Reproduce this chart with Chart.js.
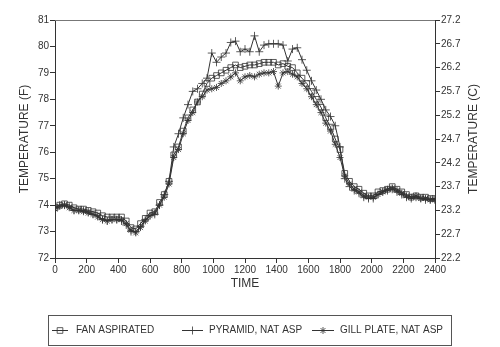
<!DOCTYPE html>
<html><head><meta charset="utf-8">
<script src="https://cdn.jsdelivr.net/npm/chart.js@4.4.1/dist/chart.umd.min.js"></script>
<style>html,body{margin:0;padding:0;background:#fff}#wrap{width:500px;height:347px;position:relative}</style>
</head><body><div id="wrap"><canvas id="c" width="500" height="347"></canvas></div>
<script>
const times=[0,30,60,90,120,150,180,210,240,270,300,330,360,390,420,450,480,510,540,570,600,630,660,690,720,750,780,810,840,870,900,930,960,990,1020,1050,1080,1110,1140,1170,1200,1230,1260,1290,1320,1350,1380,1410,1440,1470,1500,1530,1560,1590,1620,1650,1680,1710,1740,1770,1800,1830,1860,1890,1920,1950,1980,2010,2040,2070,2100,2130,2160,2190,2220,2250,2280,2310,2340,2370,2400];
const fanAspirated=[73.9,74.0,74.05,74.0,73.9,73.85,73.85,73.8,73.75,73.7,73.6,73.55,73.55,73.55,73.55,73.4,73.15,73.1,73.3,73.5,73.7,73.75,74.1,74.4,74.9,75.9,76.2,76.8,77.3,77.6,77.9,78.2,78.6,78.8,78.9,79.0,79.1,79.2,79.3,79.2,79.25,79.3,79.3,79.35,79.4,79.4,79.4,79.3,79.35,79.25,79.2,79.0,78.8,78.6,78.3,78.0,77.7,77.3,76.95,76.5,76.1,75.2,74.9,74.7,74.6,74.45,74.35,74.35,74.5,74.55,74.6,74.7,74.6,74.5,74.4,74.3,74.35,74.3,74.3,74.25,74.25];
const pyramidNatAsp=[73.9,74.0,74.0,73.95,73.8,73.8,73.8,73.75,73.65,73.6,73.45,73.4,73.45,73.45,73.4,73.25,73.0,73.0,73.2,73.45,73.6,73.65,74.0,74.4,74.9,76.2,76.7,77.3,77.8,78.3,78.4,78.6,78.8,79.75,79.4,79.6,79.75,80.15,80.2,79.8,79.9,79.8,80.4,79.8,80.05,80.1,80.1,80.1,80.05,79.45,79.9,79.95,79.5,79.1,78.7,78.35,78.0,77.6,77.35,77.0,76.2,75.0,74.7,74.55,74.45,74.3,74.25,74.25,74.4,74.5,74.55,74.6,74.5,74.4,74.3,74.25,74.3,74.25,74.2,74.2,74.2];
const gillPlateNatAsp=[73.85,73.95,74.0,73.9,73.8,73.8,73.75,73.7,73.65,73.55,73.45,73.4,73.45,73.45,73.45,73.3,73.05,72.95,73.15,73.4,73.6,73.7,74.0,74.3,74.8,75.8,76.1,76.7,77.2,77.5,77.9,78.1,78.35,78.4,78.45,78.6,78.7,78.85,79.0,78.7,78.85,78.9,78.85,78.95,79.0,79.0,79.05,78.5,79.0,79.05,78.95,78.85,78.6,78.4,78.1,77.8,77.5,77.1,76.8,76.3,75.8,75.1,74.8,74.6,74.5,74.35,74.3,74.3,74.4,74.5,74.6,74.65,74.55,74.45,74.35,74.3,74.35,74.25,74.25,74.2,74.2];
const seriesLabels=['FAN ASPIRATED','PYRAMID, NAT ASP','GILL PLATE, NAT ASP'];
const xTickValues=[0,200,400,600,800,1000,1200,1400,1600,1800,2000,2200,2400];
const fTickValues=[72,73,74,75,76,77,78,79,80,81];
const cTickValues=[22.2,22.7,23.2,23.7,24.2,24.7,25.2,25.7,26.2,26.7,27.2];
const xTitle='TIME', yLeftTitle='TEMPERATURE (F)', yRightTitle='TEMPERATURE (C)';

const FONT='"Liberation Sans", Arial, sans-serif';
const INK='#333';
const styles=['rect','cross','star'];
const radii=[4,4,3.5];

function pts(vals){return times.map((t,i)=>({x:t,y:vals[i]}));}
const seriesVals=[fanAspirated,pyramidNatAsp,gillPlateNatAsp];
const datasets=seriesVals.map((v,i)=>({
  label:seriesLabels[i],data:pts(v),yAxisID:'yF',
  borderColor:INK,borderWidth:1,pointStyle:styles[i],pointRadius:radii[i],
  pointBorderColor:INK,pointBackgroundColor:'rgba(0,0,0,0)',pointBorderWidth:0.8,tension:0
}));

function marker(ctx,style,x,y,r){
  ctx.beginPath();
  if(style==='rect'){const s=r*Math.SQRT1_2;ctx.rect(x-s,y-s,2*s,2*s);}
  else if(style==='cross'){ctx.moveTo(x-r,y);ctx.lineTo(x+r,y);ctx.moveTo(x,y-r);ctx.lineTo(x,y+r);}
  else {ctx.moveTo(x-r,y);ctx.lineTo(x+r,y);ctx.moveTo(x,y-r);ctx.lineTo(x,y+r);
    const d=r*Math.SQRT1_2;ctx.moveTo(x-d,y-d);ctx.lineTo(x+d,y+d);ctx.moveTo(x-d,y+d);ctx.lineTo(x+d,y-d);}
  ctx.stroke();
}

const decor={id:'decor',afterDraw(chart){
  const ctx=chart.ctx,a=chart.chartArea;
  ctx.save();
  ctx.strokeStyle='#777';ctx.lineWidth=1;
  ctx.beginPath();ctx.moveTo(a.left,a.top+0.5);ctx.lineTo(a.right,a.top+0.5);ctx.stroke();
  ctx.fillStyle=INK;ctx.font='12px '+FONT;ctx.textAlign='center';ctx.textBaseline='middle';
  const my=(a.top+a.bottom)/2;
  ctx.save();ctx.translate(25,my);ctx.rotate(-Math.PI/2);ctx.fillText(yLeftTitle,0,0);ctx.restore();
  ctx.save();ctx.translate(474,my);ctx.rotate(-Math.PI/2);ctx.fillText(yRightTitle,0,0);ctx.restore();
  ctx.fillText(xTitle,(a.left+a.right)/2,284);
  ctx.strokeStyle='#555';ctx.lineWidth=1;
  ctx.strokeRect(48.5,315.5,403,30);
  const items=[{x1:52,x2:68,tx:76},{x1:182,x2:203,tx:209},{x1:312,x2:334,tx:340}];
  ctx.font='10px '+FONT;ctx.textAlign='left';
  items.forEach((it,i)=>{
    const y=330.5;
    ctx.strokeStyle=INK;ctx.lineWidth=1;
    ctx.beginPath();ctx.moveTo(it.x1,y);ctx.lineTo(it.x2,y);ctx.stroke();
    ctx.lineWidth=0.8;marker(ctx,styles[i],(it.x1+it.x2)/2,y,radii[i]);
    ctx.fillText(chart.data.datasets[i].label,it.tx,y);
  });
  ctx.restore();
}};

const tickFont={family:FONT,size:10};
new Chart(document.getElementById('c'),{
  type:'line',
  data:{datasets},
  options:{
    responsive:false,animation:false,devicePixelRatio:1,
    layout:{padding:{left:0,right:0,top:20,bottom:49}},
    plugins:{legend:{display:false},tooltip:{enabled:false}},
    scales:{
      x:{type:'linear',min:0,max:2400,
        afterBuildTicks:s=>{s.ticks=xTickValues.map(v=>({value:v}));},
        afterFit:s=>{s.height=40;},
        grid:{drawOnChartArea:false,tickLength:5,color:INK},
        border:{color:INK},
        ticks:{font:tickFont,color:INK,padding:1,maxRotation:0,autoSkip:false,callback:v=>String(v)}},
      yF:{type:'linear',position:'left',min:72,max:81,
        afterBuildTicks:s=>{s.ticks=fTickValues.map(v=>({value:v}));},
        afterFit:s=>{s.width=55;},
        grid:{drawOnChartArea:false,tickLength:5,color:INK},
        border:{color:INK},
        ticks:{font:tickFont,color:INK,padding:1,callback:v=>String(v)}},
      yC:{type:'linear',position:'right',min:22.2,max:27.2,
        afterBuildTicks:s=>{s.ticks=cTickValues.map(v=>({value:v}));},
        afterFit:s=>{s.width=65;},
        grid:{drawOnChartArea:false,tickLength:5,color:INK},
        border:{color:INK},
        ticks:{font:tickFont,color:INK,padding:1,callback:v=>Number(v).toFixed(1)}}
    }
  },
  plugins:[decor]
});
</script></body></html>
